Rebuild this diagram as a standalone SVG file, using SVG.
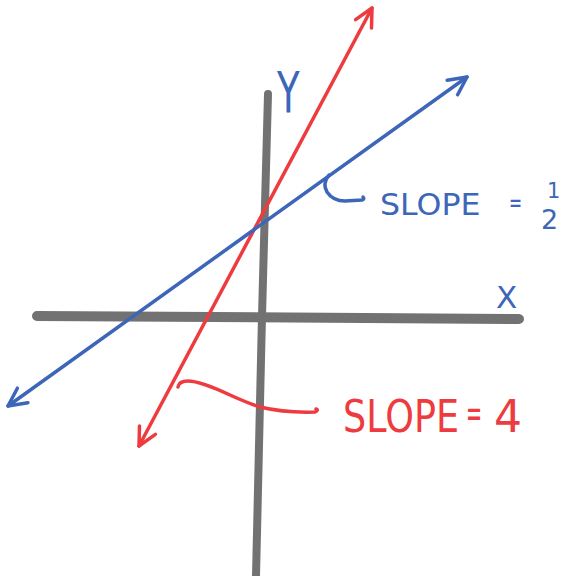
<svg xmlns="http://www.w3.org/2000/svg" width="567" height="576" viewBox="0 0 567 576">
<style>
.axis{stroke:#727272;stroke-linecap:round;fill:none}
.red{stroke:#ee3b3f;stroke-width:3.5;fill:none;stroke-linecap:round;stroke-linejoin:round}
.blue{stroke:#3d66b8;stroke-width:3.5;fill:none;stroke-linecap:round;stroke-linejoin:round}
.rt{fill:#ee3b3f;font-family:"DejaVu Sans",sans-serif}
.bt{fill:#3d66b8;font-family:"DejaVu Sans",sans-serif}
</style>
<defs>
<marker id="ar" viewBox="-22 -12 26 24" markerWidth="26" markerHeight="24" refX="0" refY="0" orient="auto-start-reverse" markerUnits="userSpaceOnUse">
<path d="M-18,-9 L0,0 L-18,9" fill="none" stroke="#ee3b3f" stroke-width="3.5" stroke-linecap="round" stroke-linejoin="round"/>
</marker>
<marker id="ab" viewBox="-22 -12 26 24" markerWidth="26" markerHeight="24" refX="0" refY="0" orient="auto-start-reverse" markerUnits="userSpaceOnUse">
<path d="M-18,-9 L0,0 L-18,9" fill="none" stroke="#3d66b8" stroke-width="3.5" stroke-linecap="round" stroke-linejoin="round"/>
</marker>
</defs>
<rect width="567" height="576" fill="#ffffff"/>
<g id="axes">
<path class="axis" d="M268,94 L262,316 L256,576" stroke-width="8"/>
<path class="axis" d="M37,316 L519,319" stroke-width="10"/>
</g>
<g id="connectors">
<path id="red-line" class="red" d="M139,446 L372,8" marker-start="url(#ar)" marker-end="url(#ar)"/>
<path id="blue-line" class="blue" d="M8,406 L467,77" marker-start="url(#ab)" marker-end="url(#ab)"/>
<path id="red-leader" class="red" d="M178,387 Q179,381 188,381 Q200,381 230,395 Q250,404 260,407 Q285,413 315,412 Q319,410 316,409"/>
<path id="blue-leader" class="blue" d="M329,175 Q322,184 327,192 Q333,201 345,201 L362,200 Q365,199 363,197"/>
</g>
<g id="label-y">
<text class="bt" transform="translate(277,113) scale(0.65,1)" font-size="57">Y</text>
</g>
<g id="label-x">
<text class="bt" x="496" y="308" font-size="31">X</text>
</g>
<g id="label-slope-half">
<text class="bt" transform="translate(380,215) scale(1.02,1)" font-size="31">SLOPE</text>
<text class="bt" transform="translate(509,212) scale(0.6,1)" font-size="26">=</text>
<text class="bt" x="547" y="198" font-size="21">1</text>
<text class="bt" x="541" y="229" font-size="27">2</text>
</g>
<g id="label-slope-4">
<text class="rt" transform="translate(343,432) scale(0.83,1)" font-size="44">SLOPE</text>
<text class="rt" transform="translate(466,427) scale(0.48,1)" font-size="40">=</text>
<text class="rt" x="494" y="432" font-size="44">4</text>
</g>
</svg>
